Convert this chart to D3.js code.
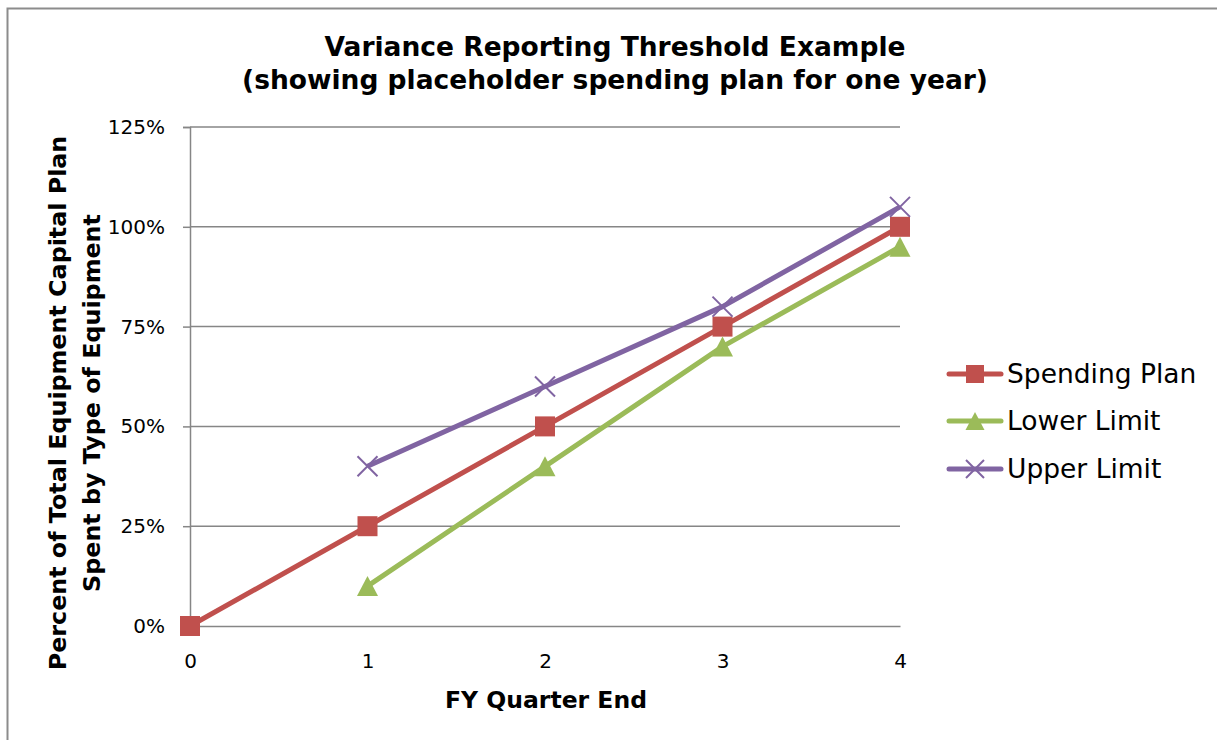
<!DOCTYPE html>
<html><head><meta charset="utf-8">
<script src="https://cdn.jsdelivr.net/npm/d3@7"></script>
<style>body{margin:0;background:#fff}svg{display:block}text{font-family:Verdana,"DejaVu Sans",sans-serif}</style>
</head><body><svg id="c" width="1217" height="740"></svg>
<script>
const quarters = [0, 1, 2, 3, 4];
const spendingPlan = [0, 25, 50, 75, 100];
const lowerQuarters = [1, 2, 3, 4];
const lowerLimit = [10, 40, 70, 95];
const upperQuarters = [1, 2, 3, 4];
const upperLimit = [40, 60, 80, 105];
const yTicks = [0, 25, 50, 75, 100, 125];
const seriesNames = ["Spending Plan", "Lower Limit", "Upper Limit"];
const colors = ["#C0504D", "#9BBB59", "#8064A2"];
const title1 = "Variance Reporting Threshold Example";
const title2 = "(showing placeholder spending plan for one year)";

const svg = d3.select("#c");
const grey = "#868686";
svg.append("rect").attr("x",7.5).attr("y",8.5).attr("width",1230).attr("height",760)
  .attr("fill","none").attr("stroke","#8c8c8c").attr("stroke-width",2);

const x = d3.scaleLinear().domain([0,4]).range([190,900]);
const y = d3.scaleLinear().domain([0,125]).range([626,127]);

// grid
svg.append("g").selectAll("line").data(yTicks.filter(d=>d>0)).join("line")
  .attr("x1",x(0)).attr("x2",x(4)).attr("y1",d=>y(d)).attr("y2",d=>y(d))
  .attr("stroke",grey).attr("stroke-width",1.5);

// y axis
const ya = svg.append("g").attr("transform",`translate(${x(0)},0)`)
  .call(d3.axisLeft(y).tickValues(yTicks).tickFormat(d=>d+"%").tickSize(7).tickPadding(18));
ya.select(".domain").attr("stroke",grey).attr("stroke-width",1.5);
ya.selectAll(".tick line").attr("stroke",grey).attr("stroke-width",1.5);
ya.selectAll("text").attr("font-size",20).attr("fill","#000").attr("font-family","Verdana,'DejaVu Sans',sans-serif");

// x axis
const xa = svg.append("g").attr("transform",`translate(0,${y(0)})`)
  .call(d3.axisBottom(x).tickValues(quarters).tickFormat(d3.format("d")).tickSize(0).tickPadding(28));
xa.select(".domain").attr("stroke",grey).attr("stroke-width",1.5);
xa.selectAll("text").attr("font-size",20).attr("fill","#000").attr("font-family","Verdana,'DejaVu Sans',sans-serif");

// titles
svg.append("text").attr("x",615).attr("y",56).attr("text-anchor","middle").attr("font-weight","bold").attr("font-size",26.5).text(title1);
svg.append("text").attr("x",615).attr("y",89).attr("text-anchor","middle").attr("font-weight","bold").attr("font-size",26.5).text(title2);
svg.append("text").attr("x",546).attr("y",708).attr("text-anchor","middle").attr("font-weight","bold").attr("font-size",23.5).text("FY Quarter End");
const yl = svg.append("text").attr("transform","rotate(-90)").attr("text-anchor","middle").attr("font-weight","bold").attr("font-size",23.8);
yl.append("tspan").attr("x",-403).attr("y",66).text("Percent of Total Equipment Capital Plan");
yl.append("tspan").attr("x",-403).attr("y",100).text("Spent by Type of Equipment");

const line = d3.line().x(d=>x(d[0])).y(d=>y(d[1]));
const series = [
  quarters.map((q,i)=>[q,spendingPlan[i]]),
  lowerQuarters.map((q,i)=>[q,lowerLimit[i]]),
  upperQuarters.map((q,i)=>[q,upperLimit[i]])
];

function marker(g, k, cx, cy, s){
  if(k===0){
    g.append("rect").attr("x",cx-s/2).attr("y",cy-s/2).attr("width",s).attr("height",s).attr("fill",colors[0]);
  } else if(k===1){
    g.append("path").attr("d",`M${cx},${cy-s/2}L${cx+s/2+0.5},${cy+s/2}L${cx-s/2-0.5},${cy+s/2}Z`).attr("fill",colors[1]);
  } else {
    const h = s/2;
    g.append("path").attr("d",`M${cx-h},${cy-h}L${cx+h},${cy+h}M${cx+h},${cy-h}L${cx-h},${cy+h}`).attr("stroke",colors[2]).attr("stroke-width",2).attr("fill","none");
  }
}

[0,1,2].forEach(k=>{
  svg.append("path").datum(series[k]).attr("d",line).attr("fill","none")
    .attr("stroke",colors[k]).attr("stroke-width",5).attr("stroke-linejoin","round");
});
[0,1,2].forEach(k=>{
  const g = svg.append("g");
  series[k].forEach(d=>marker(g,k,x(d[0]),y(d[1]),20));
});

// legend
const ly = [374, 421, 469];
seriesNames.forEach((n,k)=>{
  const g = svg.append("g");
  g.append("line").attr("x1",949).attr("x2",1001).attr("y1",ly[k]).attr("y2",ly[k])
    .attr("stroke",colors[k]).attr("stroke-width",5).attr("stroke-linecap","round");
  marker(g,k,975,ly[k],18);
  g.append("text").attr("x",1007).attr("y",ly[k]+9).attr("font-size",26.5).attr("fill","#000").text(n);
});
</script></body></html>
